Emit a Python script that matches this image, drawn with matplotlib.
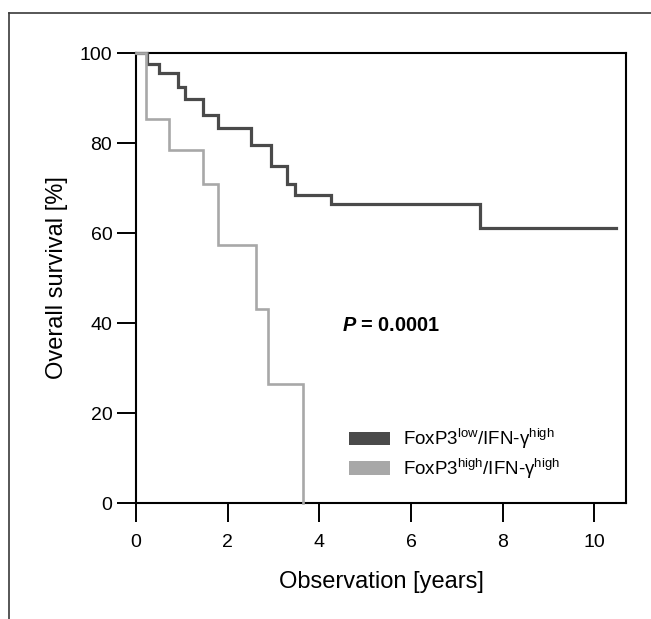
import matplotlib
matplotlib.use("Agg")
import matplotlib.pyplot as plt
from matplotlib.patches import Patch
from matplotlib.lines import Line2D

plt.rcParams['font.family'] = ['Liberation Sans', 'DejaVu Sans']
plt.rcParams['mathtext.fontset'] = 'custom'
plt.rcParams['mathtext.rm'] = 'Liberation Sans'
plt.rcParams['mathtext.it'] = 'Liberation Sans:italic'
plt.rcParams['mathtext.bf'] = 'Liberation Sans:bold'
plt.rcParams['mathtext.bfit'] = 'Liberation Sans:italic:bold'

# Data
low_times = [0, 0.25, 0.51, 0.91, 1.08, 1.46, 1.79, 2.50, 2.94, 3.29, 3.48, 4.26, 7.51, 10.48]
low_surv = [100, 97.5, 95.6, 92.5, 89.8, 86.2, 83.4, 79.6, 74.9, 70.9, 68.4, 66.4, 61.1, 61.1]
high_times = [0, 0.21, 0.72, 1.46, 1.79, 2.61, 2.89, 3.64]
high_surv = [100, 85.4, 78.4, 71.0, 57.4, 43.1, 26.4, 0]
x_ticks = [0, 2, 4, 6, 8, 10]
y_ticks = [0, 20, 40, 60, 80, 100]
labels = [r'FoxP3$^{\mathrm{low}}$/IFN-γ$^{\mathrm{high}}$',
          r'FoxP3$^{\mathrm{high}}$/IFN-γ$^{\mathrm{high}}$']
dark = '#4a4a4a'
light = '#a8a8a8'

fig = plt.figure(figsize=(6.51, 6.19), dpi=100)
ax = fig.add_axes([136/651, 1-503/619, 490/651, 450/619])

ax.plot(low_times, low_surv, drawstyle='steps-post', color=dark, lw=2.3,
        clip_on=False, zorder=3, solid_joinstyle='miter')
ax.plot(high_times, high_surv, drawstyle='steps-post', color=light, lw=1.9,
        clip_on=False, zorder=4, solid_joinstyle='miter')

ax.set_xlim(0, 490/45.83)
ax.set_ylim(0, 100)
ax.set_xticks(x_ticks)
ax.set_yticks(y_ticks)
for s in ax.spines.values():
    s.set_linewidth(1.5)
    s.set_color('black')
ax.tick_params(axis='both', direction='out', length=13.5, width=1.4,
               labelsize=14, colors='black')
ax.tick_params(axis='x', pad=8.5)
ax.tick_params(axis='y', pad=3.6)

ax.set_xlabel('Observation [years]', fontsize=17, labelpad=14.5)
ax.set_ylabel('Overall survival [%]', fontsize=17, labelpad=8.5)

ax.text(5.57, 39.4, r'$\mathbfit{P}$ = 0.0001', fontsize=14.3, fontweight='bold',
        ha='center', va='center')

handles = [Patch(facecolor=dark, edgecolor='none'), Patch(facecolor=light, edgecolor='none')]
ax.legend(handles, labels, loc='center left', bbox_to_anchor=(0.4347, 0.109),
          frameon=False, fontsize=13.5, handlelength=2.19, handleheight=0.75,
          handletextpad=0.68, borderpad=0, borderaxespad=0, labelspacing=0.3)

# outer frame (top and left edges visible)
fig.add_artist(Line2D([8.7/651, 1.0], [1-12.7/619, 1-12.7/619], transform=fig.transFigure,
                      color='#3a3a3a', lw=1.2))
fig.add_artist(Line2D([8.7/651, 8.7/651], [1-12.7/619, 0], transform=fig.transFigure,
                      color='#3a3a3a', lw=1.2))

fig.savefig('out.png', dpi=100)
